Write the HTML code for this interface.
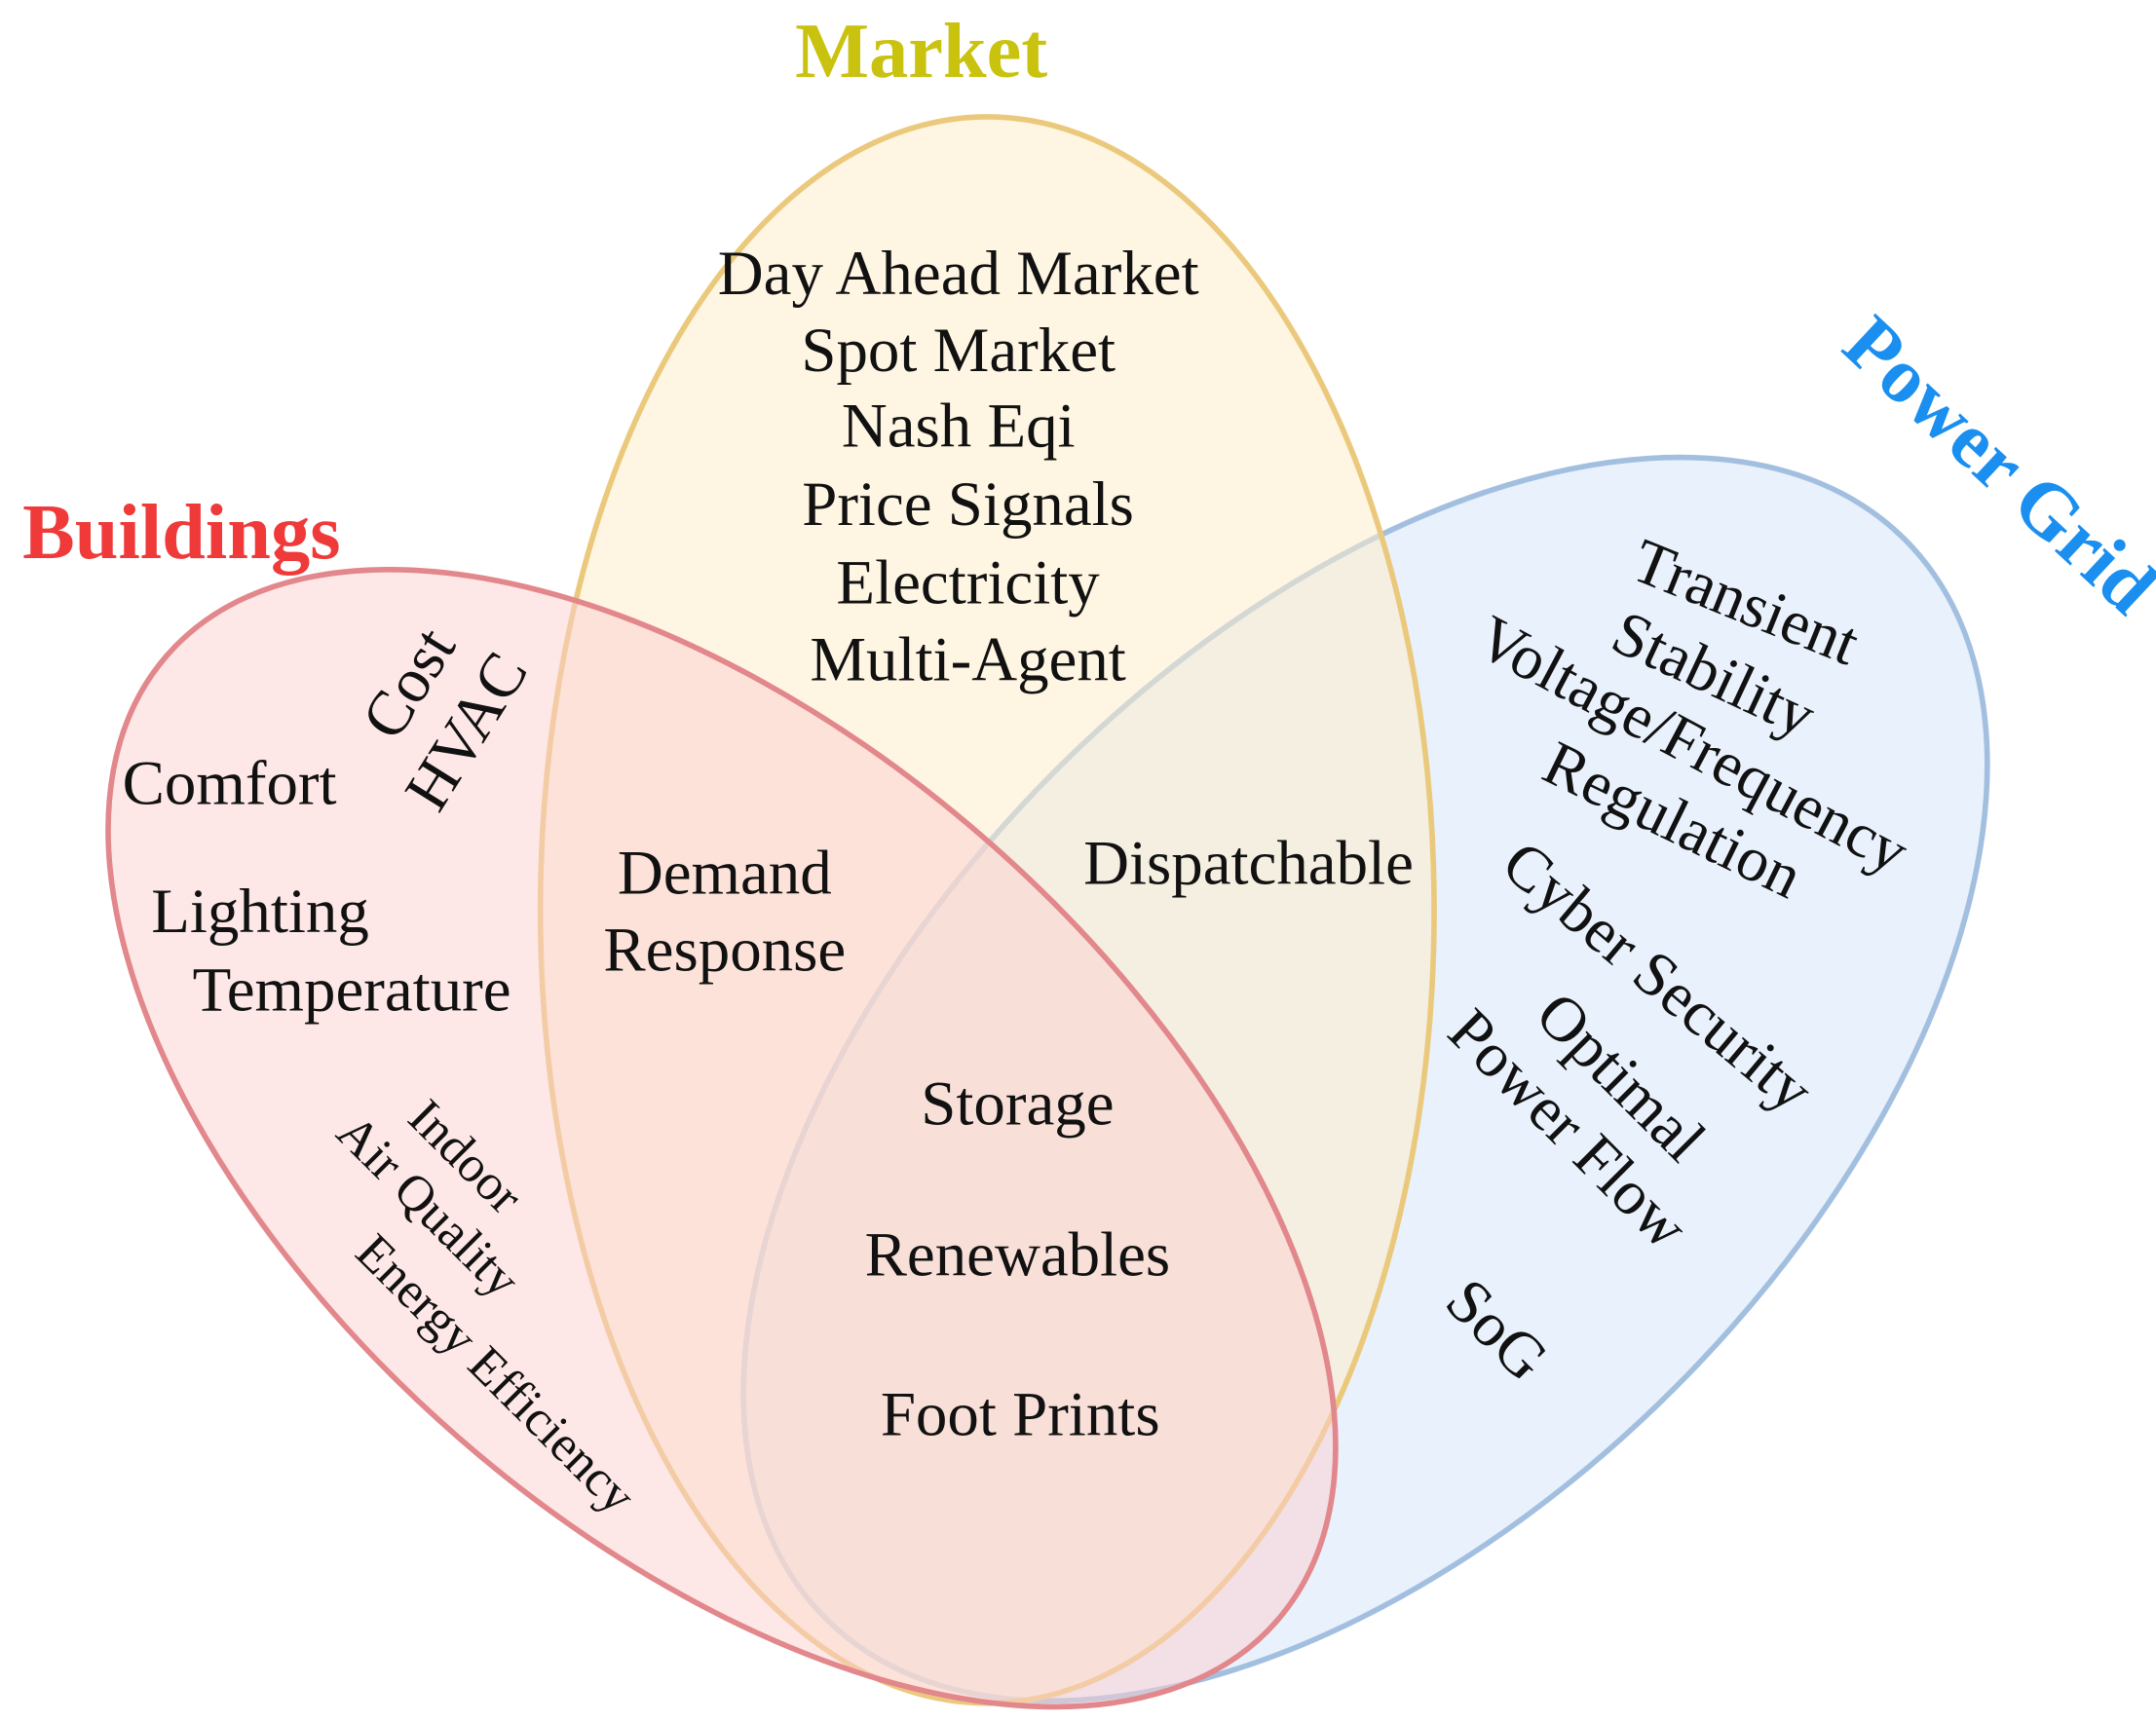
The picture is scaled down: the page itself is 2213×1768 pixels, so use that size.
<!DOCTYPE html>
<html><head><style>
html,body{margin:0;padding:0;background:#fff;overflow:hidden;}
svg{display:block;}
text{font-family:"Liberation Serif",serif;fill:#111;}
</style></head><body>
<svg width="2213" height="1768" viewBox="0 0 1568 1252.7" xmlns="http://www.w3.org/2000/svg">
<g>
<ellipse cx="993" cy="785" rx="555" ry="318" transform="rotate(-45 993 785)" fill="#d6e5fa" fill-opacity="0.55" stroke="#a3bfe0" stroke-width="4"/>
<ellipse cx="718" cy="662" rx="325" ry="577" fill="#fdeccb" fill-opacity="0.55" stroke="#ebc97c" stroke-width="4"/>
<ellipse cx="525" cy="828" rx="535" ry="290" transform="rotate(41 525 828)" fill="#fbcfcf" fill-opacity="0.5" stroke="#e2878b" stroke-width="4"/>
</g>
<text x="670" y="56" text-anchor="middle" font-size="57" font-weight="bold" style="fill:#c9c20f">Market</text>
<text x="132" y="406" text-anchor="middle" font-size="57" font-weight="bold" style="fill:#f03a3a">Buildings</text>
<text transform="translate(1442,352) rotate(43)" text-anchor="middle" font-size="57" font-weight="bold" style="fill:#1a8ff0">Power Grid</text>

<g font-size="46" text-anchor="middle">
<text x="697" y="214">Day Ahead Market</text>
<text x="697" y="270">Spot Market</text>
<text x="697" y="325">Nash Eqi</text>
<text x="704" y="382">Price Signals</text>
<text x="704" y="439">Electricity</text>
<text x="704" y="495">Multi-Agent</text>
<text x="527" y="650">Demand</text>
<text x="527" y="706">Response</text>
<text x="908" y="643">Dispatchable</text>
<text x="740" y="818">Storage</text>
<text x="740" y="928">Renewables</text>
<text x="742" y="1044">Foot Prints</text>
</g>
<g font-size="46">
<text x="89" y="585">Comfort</text>
<text x="110" y="678">Lighting</text>
<text x="140" y="735">Temperature</text>
</g>
<text transform="translate(310,505) rotate(-58)" text-anchor="middle" font-size="46">Cost</text>
<text transform="translate(352,540) rotate(-58)" text-anchor="middle" font-size="46">HVAC</text>
<g font-size="37" text-anchor="middle">
<text transform="translate(330,850) rotate(45)">Indoor</text>
<text transform="translate(303,886) rotate(45)">Air Quality</text>
<text transform="translate(352,1008) rotate(45)">Energy Efficiency</text>
</g>
<g font-size="46" text-anchor="middle">
<text transform="translate(1264,452) rotate(22)">Transient</text>
<text transform="translate(1240,504) rotate(25)">Stability</text>
<text transform="translate(1224,555) rotate(28)">Voltage/Frequency</text>
<text transform="translate(1210,610) rotate(26)">Regulation</text>
<text transform="translate(1196,722) rotate(40)">Cyber Security</text>
<text transform="translate(1168,794) rotate(45)">Optimal</text>
<text transform="translate(1130,832) rotate(45)">Power Flow</text>
<text transform="translate(1078,978) rotate(45)">SoG</text>
</g>
</svg>
</body></html>
